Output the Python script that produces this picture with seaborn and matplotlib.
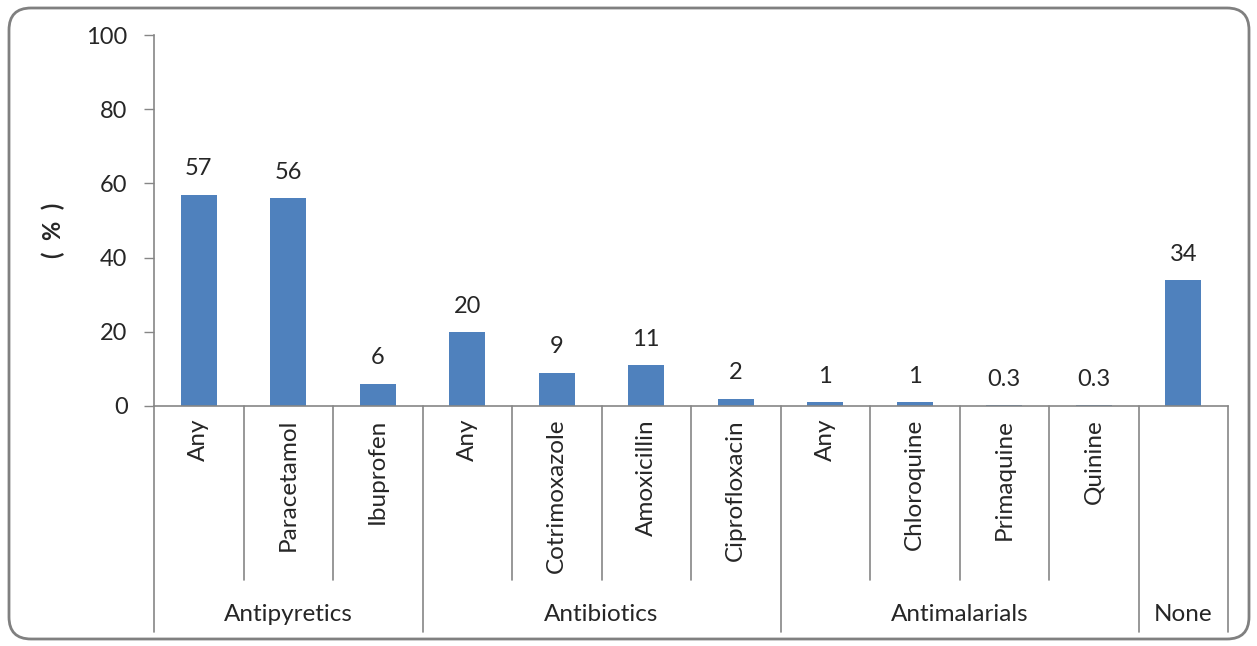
import matplotlib
matplotlib.use("Agg")
import matplotlib.pyplot as plt
import matplotlib.transforms as mtransforms
from matplotlib.patches import FancyBboxPatch
import seaborn as sns
import pandas as pd

groups = ["Antipyretics", "Antipyretics", "Antipyretics",
          "Antibiotics", "Antibiotics", "Antibiotics", "Antibiotics",
          "Antimalarials", "Antimalarials", "Antimalarials", "Antimalarials",
          "None"]
drugs = ["Any", "Paracetamol", "Ibuprofen",
         "Any", "Cotrimoxazole", "Amoxicillin", "Ciprofloxacin",
         "Any", "Chloroquine", "Primaquine", "Quinine",
         ""]
values = [57, 56, 6, 20, 9, 11, 2, 1, 1, 0.3, 0.3, 34]
value_labels = ["57", "56", "6", "20", "9", "11", "2", "1", "1", "0.3", "0.3", "34"]
yticks = [0, 20, 40, 60, 80, 100]

sns.set_theme(style="white")
plt.rcParams['font.family'] = ['Lato', 'DejaVu Sans']

df = pd.DataFrame({"key": [f"{g}|{d}|{i}" for i, (g, d) in enumerate(zip(groups, drugs))],
                   "value": values})

fig = plt.figure(figsize=(12.57, 6.46), dpi=100)
ax = fig.add_axes([154/1257, 1-406/646, (1228-154)/1257, (406-35)/646])

sns.barplot(data=df, x="key", y="value", color="#4F81BD", width=0.4,
            saturation=1, ax=ax, edgecolor="none")

NUM_FS = 17
TXT_FS = 17.5

ax.set_ylim(0, 100)
ax.set_xlim(-0.5, len(values) - 0.5)
ax.set_yticks(yticks)
ax.set_yticklabels([str(t) for t in yticks], fontsize=NUM_FS)
ax.tick_params(axis="y", direction="out", length=7, width=1, color="#868686", pad=12, left=True)
ax.set_xticks([])
ax.set_xlabel("")
ax.set_ylabel("(  %  )", fontsize=NUM_FS, fontweight="bold")
ax.yaxis.set_label_coords(-0.083, 0.474)

for s in ["top", "right"]:
    ax.spines[s].set_visible(False)
for s in ["left", "bottom"]:
    ax.spines[s].set_color("#868686")
    ax.spines[s].set_linewidth(1.2)

ax.bar_label(ax.containers[0], labels=value_labels, padding=11, fontsize=NUM_FS)

trans = mtransforms.blended_transform_factory(ax.transData, ax.transAxes)

# sub-category labels
for i, d in enumerate(drugs):
    if d:
        ax.text(i, -0.035, d, rotation=90, ha="center", va="top", fontsize=TXT_FS,
                transform=trans, clip_on=False)

# separators
n = len(values)
for b in range(n + 1):
    x = b - 0.5
    is_group_edge = (b == 0 or b == n or groups[b] != groups[b - 1])
    ybot = -0.609 if is_group_edge else -0.469
    ax.plot([x, x], [0, ybot], color="#868686", lw=1.2, transform=trans, clip_on=False)

# group labels
seen = []
for g in groups:
    if g not in seen:
        seen.append(g)
for g in seen:
    idx = [i for i, gg in enumerate(groups) if gg == g]
    center = (idx[0] + idx[-1]) / 2
    ax.text(center, -0.563, g, ha="center", va="center", fontsize=TXT_FS,
            transform=trans, clip_on=False)

# rounded border
border = FancyBboxPatch((9, 7), 1240, 631, boxstyle="round,pad=0,rounding_size=22",
                        transform=mtransforms.IdentityTransform(), fill=False,
                        edgecolor="#808080", linewidth=2)
fig.patches.append(border)

fig.savefig("out.png", dpi=100)
